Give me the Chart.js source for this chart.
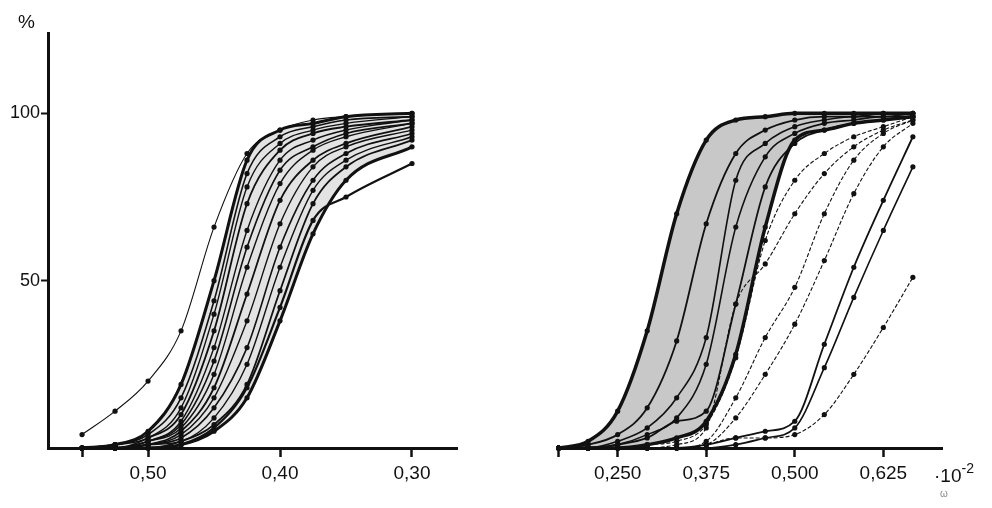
<!DOCTYPE html>
<html>
<head>
<meta charset="utf-8">
<script src="https://cdn.jsdelivr.net/npm/chart.js@4/dist/chart.umd.min.js"></script>
<style>
  html, body { margin: 0; padding: 0; background: #fff; }
  #wrap { position: relative; width: 992px; height: 508px; overflow: hidden;
          font-family: 'Liberation Sans', Arial, sans-serif; color: #111; }
  #left { position: absolute; left: 0; top: 0; }
  #right { position: absolute; left: 470px; top: 0; }
  .lbl { position: absolute; font-size: 19px; line-height: 1; }
</style>
</head>
<body>
<div id="wrap">
  <canvas id="left" width="470" height="508"></canvas>
  <canvas id="right" width="522" height="508"></canvas>
  <div class="lbl" style="left:18px; top:12px;">%</div>
  <div class="lbl" style="left:934px; top:461px;">·10<sup style="font-size:14px; vertical-align:9px;">-2</sup></div>
  <div class="lbl" style="left:940px; top:489px; font-size:10px; color:#888;">ω</div>
</div>
<script>
// ---- shared y axis ----
var yTicks = [50, 100];

// ---- left panel (axis runs from high to low) ----
var leftX = [0.55, 0.525, 0.50, 0.475, 0.45, 0.425, 0.40, 0.375, 0.35, 0.30];
var leftTicks = [0.55, 0.50, 0.40, 0.30];
var leftTickLabels = ['', '0,50', '0,40', '0,30'];

var leftA = [4, 11, 20, 35, 66, 88, 95, 98, 99, 100];
var leftB = [0, 1, 5, 19, 50, 86, 95, 97, 99, 100];
var leftC = [0, 1, 4, 15, 44, 82, 93, 96, 98, 99];
var leftD = [0, 1, 3, 12, 40, 78, 91, 95, 97, 99];
var leftE = [0, 0, 3, 10, 35, 73, 89, 94, 96, 98];
var leftF = [0, 0, 2, 8, 30, 65, 86, 92, 95, 98];
var leftG = [0, 0, 2, 7, 26, 60, 83, 90, 94, 97];
var leftH = [0, 0, 2, 6, 22, 54, 79, 89, 93, 97];
var leftI = [0, 0, 1, 5, 18, 46, 74, 86, 91, 96];
var leftJ = [0, 0, 1, 4, 15, 38, 67, 84, 90, 95];
var leftK = [0, 0, 1, 3, 12, 30, 60, 80, 88, 94];
var leftL = [0, 0, 1, 2, 9, 25, 54, 77, 86, 93];
var leftM = [0, 0, 0, 2, 7, 19, 47, 73, 84, 92];
var leftN = [0, 0, 0, 1, 5, 15, 38, 64, 80, 90];
var leftO = [0, 0, 0, 1, 6, 18, 42, 68, 75, 85];

// ---- right panel ----
var rightX = [0.1667, 0.2083, 0.25, 0.2917, 0.3333, 0.375, 0.4167, 0.4583, 0.5, 0.5417, 0.5833, 0.625, 0.6667];
var rightTicks = [0.1667, 0.25, 0.375, 0.5, 0.625];
var rightTickLabels = ['', '0,250', '0,375', '0,500', '0,625'];

var rightR1 = [0, 2, 11, 35, 70, 92, 98, 99, 100, 100, 100, 100, 100];
var rightR2 = [0, 1, 4, 12, 32, 67, 88, 95, 98, 99, 99, 100, 100];
var rightR3 = [0, 0, 2, 6, 15, 33, 80, 91, 96, 98, 99, 99, 100];
var rightR4 = [0, 0, 1, 4, 9, 25, 66, 87, 94, 97, 98, 99, 99];
var rightR5 = [0, 0, 1, 3, 8, 11, 43, 78, 91, 95, 97, 98, 99];
var rightR6 = [0, 0, 0, 1, 3, 8, 28, 66, 92, 95, 97, 98, 99];
var rightT0 = [0, 0, 0, 1, 2, 7, 27, 62, 80, 88, 93, 96, 99];
var rightT1 = [0, 0, 0, 0, 1, 6, 43, 55, 70, 82, 90, 95, 98];
var rightT2 = [0, 0, 0, 0, 0, 2, 15, 33, 48, 70, 86, 94, 98];
var rightT3 = [0, 0, 0, 0, 0, 1, 9, 22, 37, 56, 76, 90, 97];
var rightU1 = [0, 0, 0, 0, 0, 1, 3, 5, 8, 31, 54, 74, 93];
var rightU2 = [0, 0, 0, 0, 0, 0, 1, 3, 6, 24, 45, 65, 84];
var rightU3 = [0, 0, 0, 0, 0, 1, 3, 3, 4, 10, 22, 36, 51];

var leftCurves = [leftA, leftB, leftC, leftD, leftE, leftF, leftG, leftH, leftI, leftJ, leftK, leftL, leftM, leftN, leftO];
var leftWidths = [1.1, 3, 1.6, 1.4, 1.8, 1.4, 1.6, 1.4, 1.8, 1.4, 1.6, 1.4, 1.8, 3, 2.2];
var leftDashed = [false, false, false, false, false, false, false, false, false, false, false, false, false, false, false];

var rightCurves = [rightR1, rightR2, rightR3, rightR4, rightR5, rightR6, rightT0, rightT1, rightT2, rightT3, rightU1, rightU2, rightU3];
var rightWidths = [3.5, 1.8, 1.6, 1.6, 1.8, 3.5, 1.1, 1.1, 1.1, 1.1, 1.8, 1.6, 1.1];
var rightDashed = [false, false, false, false, false, false, true, true, true, true, false, false, true];

var ink = '#111';
var tickFont = { family: "'Liberation Sans', Arial, sans-serif", size: 19 };

function makeSets(xs, curves, widths, dashed) {
    return curves.map(function (vals, i) {
        return {
            data: xs.map(function (x, j) { return { x: x, y: vals[j] }; }),
            borderColor: ink,
            borderWidth: widths[i],
            borderDash: dashed[i] ? [4, 2] : [],
            pointRadius: 2.6,
            pointBackgroundColor: ink,
            pointBorderWidth: 0,
            cubicInterpolationMode: 'monotone',
            fill: false,
            clip: false
        };
    });
}

function makeOptions(xmin, xmax, reverse, ticks, labels, showY, pad) {
    return {
        responsive: false,
        animation: false,
        layout: { padding: pad },
        plugins: {
            legend: { display: false },
            tooltip: { enabled: false },
            filler: { drawTime: 'beforeDatasetsDraw' }
        },
        scales: {
            x: {
                type: 'linear', min: xmin, max: xmax, reverse: reverse,
                afterBuildTicks: function (s) { s.ticks = ticks.map(function (v) { return { value: v }; }); },
                afterFit: function (s) { s.height = 60; },
                border: { display: true, color: ink, width: 3 },
                grid: { drawOnChartArea: false, drawTicks: true, tickLength: 9, tickWidth: 2.5, tickColor: ink },
                ticks: {
                    autoSkip: false, maxRotation: 0, padding: 5, color: ink, font: tickFont,
                    callback: function (v, i) { return labels[i]; }
                }
            },
            y: {
                type: 'linear', min: 0, max: 124, display: showY,
                afterBuildTicks: function (s) { s.ticks = yTicks.map(function (v) { return { value: v }; }); },
                afterFit: function (s) { s.width = 48; },
                border: { display: true, color: ink, width: 3 },
                grid: { drawOnChartArea: false, drawTicks: true, tickLength: 7, tickWidth: 2, tickColor: ink },
                ticks: { color: ink, font: { family: tickFont.family, size: 18 }, padding: 1 }
            }
        }
    };
}

// Left chart, shaded band between the heavy outer curves
var leftSets = makeSets(leftX, leftCurves, leftWidths, leftDashed);
leftSets[1].fill = 13;
leftSets[1].backgroundColor = '#e3e3e3';
new Chart(document.getElementById('left'), {
    type: 'line',
    data: { datasets: leftSets },
    options: makeOptions(0.2659, 0.5758, true, leftTicks, leftTickLabels, true, { top: 33, right: 13, left: 0, bottom: 0 })
});

// Right chart, darker band
var rightSets = makeSets(rightX, rightCurves, rightWidths, rightDashed);
rightSets[0].fill = 5;
rightSets[0].backgroundColor = '#c8c8c8';
new Chart(document.getElementById('right'), {
    type: 'line',
    data: { datasets: rightSets },
    options: makeOptions(0.1672, 0.7078, false, rightTicks, rightTickLabels, false, { top: 33, right: 50, left: 41, bottom: 0 })
});
</script>
</body>
</html>
